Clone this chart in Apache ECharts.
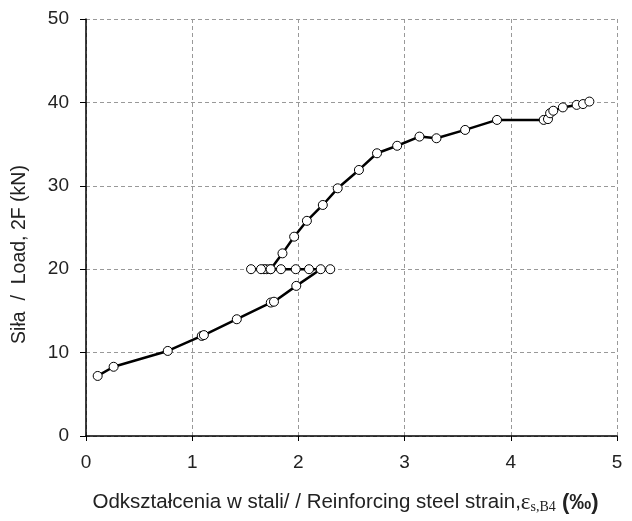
<!DOCTYPE html>
<html><head><meta charset="utf-8">
<script src="https://cdn.jsdelivr.net/npm/echarts@6/dist/echarts.min.js"></script>
<style>html,body{margin:0;padding:0;background:#fff}#c{width:632px;height:521px}</style>
</head><body><div id="c"></div>
<script>
var strain = [0.11,0.26,0.77,1.09,1.11,1.42,1.74,1.77,1.98,2.21,2.30,2.10,1.975,1.836,1.739,1.701,1.676,1.648,1.554,1.739,1.85,1.96,2.08,2.23,2.37,2.57,2.74,2.93,3.14,3.30,3.57,3.87,4.31,4.35,4.37,4.40,4.49,4.62,4.68,4.74];
var load   = [7.2,8.3,10.2,12.0,12.1,14.0,16.0,16.1,18.0,20.0,20.0,20.0,20.0,20.0,20.0,20.0,20.0,20.0,20.0,20.0,21.9,23.9,25.8,27.7,29.7,31.9,33.9,34.8,35.9,35.7,36.7,37.9,37.9,38.0,38.7,39.0,39.4,39.7,39.8,40.1];
var xTicks = [0,1,2,3,4,5];
var yTicks = [0,10,20,30,40,50];
var yTitle = 'Siła  /  Load, 2F (kN)';
var xTitle = 'Odkształcenia w stali/ / Reinforcing steel strain,';

var pts = strain.map(function(v,i){return [v,load[i]];});
var font = '"Liberation Sans", Arial, sans-serif';
var chart = echarts.init(document.getElementById('c'));
chart.setOption({
  animation:false,
  grid:{left:86,right:15,top:19,bottom:85,containLabel:false},
  xAxis:{type:'value',min:0,max:5,interval:1,
    name:'{t|'+xTitle+'}{e|ε}{s|s,B4}{p| (‰)}',nameLocation:'middle',nameGap:55,
    nameTextStyle:{padding:[0,12,0,0],rich:{
      t:{fontFamily:font,fontSize:20.5,color:'#222'},
      e:{fontFamily:'"Liberation Serif", serif',fontSize:23,color:'#222'},
      s:{fontFamily:'"Liberation Serif", serif',fontSize:14,color:'#222',padding:[9,0,0,0]},
      p:{fontFamily:font,fontSize:22,fontWeight:'bold',color:'#222'}}},
    axisLine:{show:true,lineStyle:{color:'#000',width:1.5}},
    axisTick:{show:true,length:5,lineStyle:{color:'#000'}},
    axisLabel:{fontFamily:font,fontSize:19,color:'#222',margin:17,
      formatter:function(v){return xTicks.indexOf(v)>=0?String(v):'';}},
    splitLine:{show:true,lineStyle:{color:'#999',type:[4,3],width:1}}},
  yAxis:{type:'value',min:0,max:50,interval:10,
    name:yTitle,nameLocation:'middle',nameGap:56,nameRotate:90,
    nameTextStyle:{fontFamily:font,fontSize:19.5,color:'#222',padding:[0,54,0,0]},
    axisLine:{show:true,lineStyle:{color:'#000',width:1.5}},
    axisTick:{show:true,length:6,lineStyle:{color:'#000'}},
    axisLabel:{fontFamily:font,fontSize:19,color:'#222',margin:17,
      formatter:function(v){return yTicks.indexOf(v)>=0?String(v):'';}},
    splitLine:{show:true,lineStyle:{color:'#999',type:[4,3],width:1}}},
  series:[{type:'line',data:pts,symbol:'circle',symbolSize:9,
    lineStyle:{color:'#000',width:2.5},
    itemStyle:{color:'#fff',borderColor:'#000',borderWidth:1}}]
});
</script></body></html>
